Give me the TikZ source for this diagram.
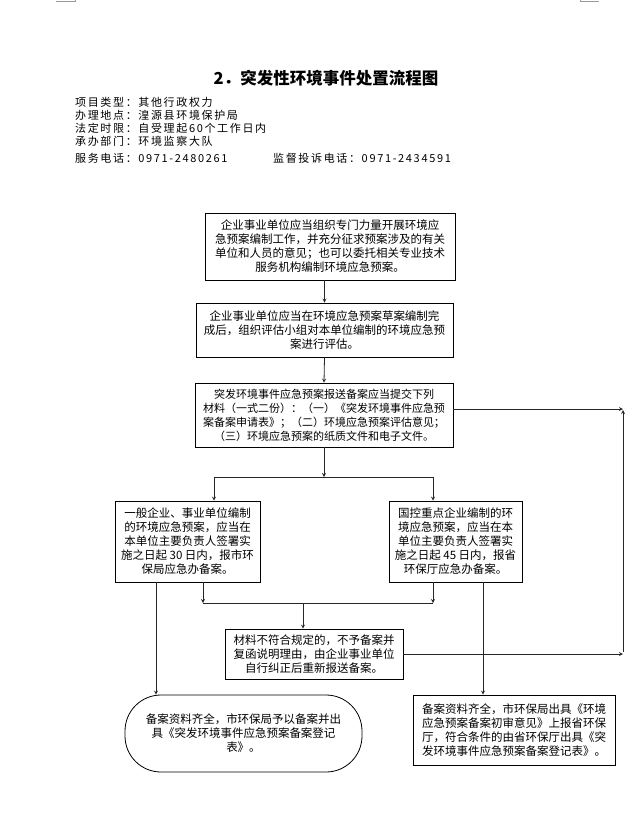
\documentclass[tikz,border=0pt]{standalone}
\usepackage{fontspec}
\setmainfont{Noto Sans CJK SC}
\newfontfamily\infofont[LetterSpace=15]{Noto Sans CJK SC}

\tikzset{
  stepbox/.style={draw, line width=0.8pt, align=center, inner sep=0pt,
    font=\fontsize{11.5}{14}\selectfont},
  flow/.style={->, draw=black!85, line width=0.8pt},
  info/.style={anchor=west, inner sep=0pt, align=left,
    font=\infofont\fontsize{11}{13}\selectfont},
}

\begin{document}
\begin{tikzpicture}[>=stealth, x=1pt, y=-1pt]
  \useasboundingbox (0,0) rectangle (639,839);

  % page marks
  \draw[black!40, line width=1pt] (56,1.5) -- (75,1.5) -- (75,0);
  \draw[black!40, line width=1pt] (580,0) -- (580,1.5) -- (599,1.5);

  % heading
  \node[font=\bfseries\fontsize{16.5}{19}\selectfont] (title) at (326,78) {2．突发性环境事件处置流程图};
  \node[info] (facts) at (75,122) {项目类型：其他行政权力\\ 办理地点：湟源县环境保护局\\
    法定时限：自受理起60个工作日内\\ 承办部门：环境监察大队};
  \node[info] (phone) at (75,158) {服务电话：0971-2480261};
  \node[info] (complain) at (273,158) {监督投诉电话：0971-2434591};

  % boxes
  \node[stepbox, minimum width=250pt, minimum height=67pt] (plan) at (330,246.5)
    {企业事业单位应当组织专门力量开展环境应\\ 急预案编制工作，并充分征求预案涉及的有关\\
     单位和人员的意见；也可以委托相关专业技术\\ 服务机构编制环境应急预案。};
  \node[stepbox, minimum width=257pt, minimum height=54pt] (review) at (324.5,330)
    {企业事业单位应当在环境应急预案草案编制完\\ 成后，组织评估小组对本单位编制的环境应急预\\
     案进行评估。};
  \node[stepbox, minimum width=258pt, minimum height=64pt, font=\fontsize{11}{14}\selectfont] (submit) at (324,415)
    {突发环境事件应急预案报送备案应当提交下列\\ 材料（一式二份）：（一）《突发环境事件应急预\\
     案备案申请表》；（二）环境应急预案评估意见；\\ （三）环境应急预案的纸质文件和电子文件。};
  \node[stepbox, minimum width=145pt, minimum height=81pt] (city) at (187.5,541.5)
    {一般企业、事业单位编制\\ 的环境应急预案，应当在\\ 本单位主要负责人签署实\\
     施之日起 30 日内，报市环\\ 保局应急办备案。};
  \node[stepbox, minimum width=133pt, minimum height=81pt] (prov) at (455.5,541.5)
    {国控重点企业编制的环\\ 境应急预案，应当在本\\ 单位主要负责人签署实\\
     施之日起 45 日内，报省\\ 环保厅应急办备案。};
  \node[stepbox, minimum width=178pt, minimum height=50pt] (reject) at (314,654)
    {材料不符合规定的，不予备案并\\ 复函说明理由，由企业事业单位\\ 自行纠正后重新报送备案。};
  \node[stepbox, rounded corners=36pt, minimum width=237pt, minimum height=77pt] (cityok) at (243.5,733.5)
    {备案资料齐全，市环保局予以备案并出\\ 具《突发环境事件应急预案备案登记\\ 表》。};
  \node[stepbox, minimum width=202pt, minimum height=70pt] (provok) at (514,730)
    {备案资料齐全，市环保局出具《环境\\ 应急预案备案初审意见》上报省环保\\
     厅，符合条件的由省环保厅出具《突\\ 发环境事件应急预案备案登记表》。};

  \coordinate (fork) at (324,477);
  \coordinate (merge) at (303,603);
  \coordinate (railfoot) at (623,652);
  \coordinate (railtop) at (623,410);

  % connectors
  \draw[flow] (review.north |- plan.south) -- (review.north);
  \draw[flow] (review.south) -- (submit.north);
  \draw[flow] (submit.south) -- (fork);
  \draw[flow] (fork) -| ([xshift=26.5pt]city.north);
  \draw[flow] (fork) -| ([xshift=-22.5pt]prov.north);
  \draw[flow] ([xshift=15.5pt]city.south) -- ([xshift=15.5pt]city.south |- merge);
  \draw[flow] ([xshift=-22.5pt]prov.south) -- ([xshift=-22.5pt]prov.south |- merge);
  \draw[draw=black!85, line width=0.8pt] ([xshift=15.5pt]city.south |- merge) -- ([xshift=-22.5pt]prov.south |- merge);
  \draw[flow] (merge) -- (reject.north -| merge);
  \draw[flow] ([xshift=-31.5pt]city.south) -- ([xshift=-31.5pt]city.south |- cityok.north);
  \draw[flow] ([xshift=27.5pt]prov.south) -- ([xshift=27.5pt]prov.south |- provok.north);
  \draw[flow] (reject.east) -- (reject.east -| railfoot);
  \draw[flow] (railfoot) -- (railtop);
  \draw[flow] ([yshift=6pt]submit.east) -- ([yshift=6pt]submit.east -| railtop);
\end{tikzpicture}
\end{document}
